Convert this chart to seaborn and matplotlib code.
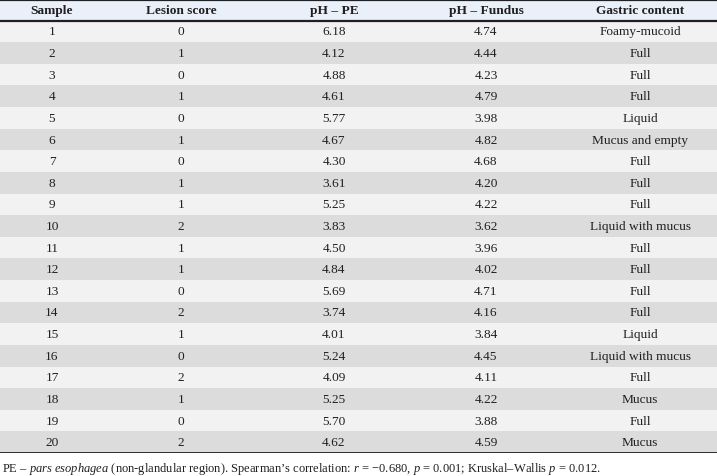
import numpy as np
import pandas as pd
import matplotlib
matplotlib.use("Agg")
import matplotlib.pyplot as plt
import seaborn as sns
from matplotlib.colors import ListedColormap

# Dados da tabela
amostra = list(range(1, 21))
escore_lesao = [0, 1, 0, 1, 0, 1, 0, 1, 1, 2, 1, 1, 0, 2, 1, 0, 2, 1, 0, 2]
ph_pe = [6.18, 4.12, 4.88, 4.61, 5.77, 4.67, 4.30, 3.61, 5.25, 3.83,
         4.50, 4.84, 5.69, 3.74, 4.01, 5.24, 4.09, 5.25, 5.70, 4.62]
ph_fundo = [4.74, 4.44, 4.23, 4.79, 3.98, 4.82, 4.68, 4.20, 4.22, 3.62,
            3.96, 4.02, 4.71, 4.16, 3.84, 4.45, 4.11, 4.22, 3.88, 4.59]
conteudo = ["Foamy-mucoid", "Full", "Full", "Full", "Liquid", "Mucus and empty",
            "Full", "Full", "Full", "Liquid with mucus", "Full", "Full", "Full",
            "Full", "Liquid", "Liquid with mucus", "Full", "Mucus", "Full", "Mucus"]
cabecalho = ["Sample", "Lesion score", "pH – PE", "pH – Fundus", "Gastric content"]

df = pd.DataFrame({
    "amostra": amostra,
    "escore": escore_lesao,
    "ph_pe": ph_pe,
    "ph_fundo": ph_fundo,
    "conteudo": conteudo,
})

# Configuração de estilo
sns.set_theme(style="white")
plt.rcParams["font.family"] = ["Liberation Serif", "DejaVu Serif"]
plt.rcParams["mathtext.fontset"] = "custom"
plt.rcParams["mathtext.rm"] = "Liberation Serif"
plt.rcParams["mathtext.it"] = "Liberation Serif:italic"

cor_texto = "#231f20"
cores_fundo = ["#e9f0f9", "#f2f2f2", "#dcdcdc"]

# Matriz de fundo: 0 = cabeçalho, 1 = linha clara, 2 = linha escura
fundo = np.array([0] + [1 if i % 2 == 0 else 2 for i in range(len(df))]).reshape(-1, 1)

fig = plt.figure(figsize=(7.17, 4.77), dpi=100)
ax = fig.add_axes([0, 23 / 477, 1, 454 / 477])
sns.heatmap(fundo, cmap=ListedColormap(cores_fundo), vmin=-0.5, vmax=2.5,
            cbar=False, ax=ax, xticklabels=False, yticklabels=False)
ax.set_xlim(0, 1)

# Posições das colunas (px)
x_cols = np.array([52, 181, 334, 486, 640]) / 717
tam = 9.6

for x, h in zip(x_cols, cabecalho):
    ax.text(x, 0.5, h, ha="center", va="center", fontsize=tam,
            fontweight="bold", color=cor_texto)

for i, row in df.iterrows():
    y = i + 1.5
    valores = [str(row["amostra"]), str(row["escore"]),
               f"{row['ph_pe']:.2f}", f"{row['ph_fundo']:.2f}", row["conteudo"]]
    for x, v in zip(x_cols, valores):
        ax.text(x, y, v, ha="center", va="center", fontsize=tam, color=cor_texto)

# Linhas horizontais
ax.axhline(0.03, color=cor_texto, lw=1.6)
ax.axhline(1.0, color=cor_texto, lw=1.6)
ax.axhline(len(df) + 1 - 0.02, color=cor_texto, lw=1.3)

for s in ax.spines.values():
    s.set_visible(False)

# Nota de rodapé
nota = ("PE – $\\mathit{pars\\ esophagea}$ (non-glandular region). "
        "Spearman’s correlation: $\\mathit{r}$ = −0.680, $\\mathit{p}$ = 0.001; "
        "Kruskal–Wallis $\\mathit{p}$ = 0.012.")
fig.text(2 / 717, 8 / 477, nota, ha="left", va="center", fontsize=9.0, color=cor_texto)

fig.savefig("out.png", dpi=100)
